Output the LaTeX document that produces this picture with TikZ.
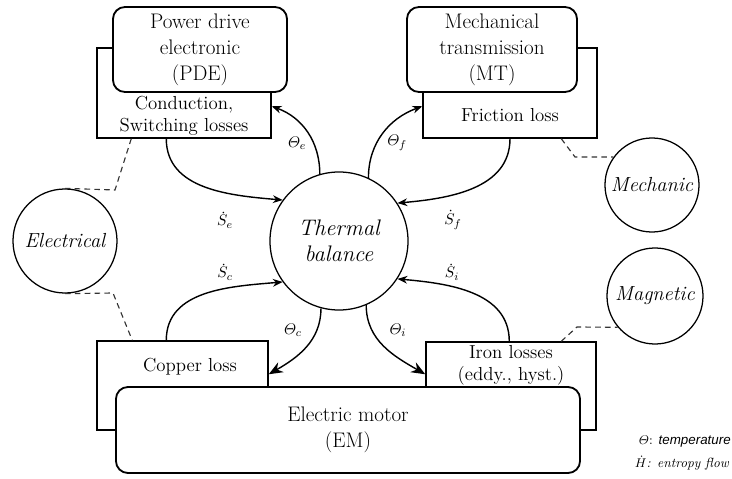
\documentclass[tikz,border=0pt]{standalone}
\usepackage{amsmath}
\usepackage{fontspec}
\newfontfamily\legendfont{Liberation Sans}
\usetikzlibrary{positioning, calc, arrows.meta, shapes}

\begin{document}
\begin{tikzpicture}[x=0.025cm, y=-0.025cm]
    % Define the styles for boxes, circles and connectors
    \tikzstyle{unitbox}=[draw, line width=1.3pt, rounded corners=0.3cm, fill=white, align=center, inner sep=0pt, font=\fontsize{15}{18.5}\selectfont];
    \tikzstyle{lossbox}=[draw, line width=1pt, inner sep=0pt];
    \tikzstyle{losstext}=[align=center, inner sep=0pt, font=\fontsize{13.4}{15.6}\selectfont];
    \tikzstyle{fieldcircle}=[draw, circle, line width=0.9pt, inner sep=0pt, align=center, font=\fontsize{14.5}{18.5}\selectfont\itshape];
    \tikzstyle{flow}=[-{Stealth[length=7pt,width=5.5pt]}, line width=1pt];
    \tikzstyle{bigflow}=[-{Stealth[length=10pt,width=8pt]}, line width=1pt];
    \tikzstyle{link}=[dash pattern=on 4pt off 3pt, line width=0.8pt, black!80];
    \tikzstyle{qty}=[inner sep=0pt, font=\fontsize{11}{13}\selectfont];

    \useasboundingbox (0,0) rectangle (732,479);

    % Loss boxes (drawn first, behind the units)
    \node[lossbox, minimum width=4.35cm, minimum height=2.25cm] (pdeloss) at (184,93) {};
    \node[lossbox, minimum width=4.35cm, minimum height=2.25cm] (mtloss) at (510,93) {};
    \node[lossbox, minimum width=4.275cm, minimum height=2.225cm] (copper) at (182.5,385.5) {};
    \node[lossbox, minimum width=4.25cm, minimum height=2.2cm] (iron) at (511,386) {};

    % Units
    \node[unitbox, minimum width=4.35cm, minimum height=2.125cm] (pde) at (200,49.5) {Power drive\\electronic\\(PDE)};
    \node[unitbox, minimum width=4.25cm, minimum height=2.125cm] (mt) at (492,49.5) {Mechanical\\transmission\\(MT)};
    \node[unitbox, minimum width=11.6cm, minimum height=2.15cm] (em) at (348,430) {Electric motor\\(EM)};

    % Loss texts
    \node[losstext] (pdetext) at (184,116) {Conduction,\\Switching losses};
    \node[losstext] (mttext) at (510,115) {Friction loss};
    \node[losstext] (coppertext) at (190,367) {Copper loss};
    \node[losstext] (irontext) at (511,365) {Iron losses\\(eddy., hyst.)};

    % Thermal balance and the physical domains
    \node[fieldcircle, minimum size=3.45cm, font=\fontsize{16}{18.5}\selectfont\itshape] (thermal) at (339,241) {Thermal\\balance};
    \node[fieldcircle, minimum size=2.6cm] (electrical) at (65,241) {Electrical};
    \node[fieldcircle, minimum size=2.35cm] (mechanic) at (652,185) {Mechanic};
    \node[fieldcircle, minimum size=2.4cm] (magnetic) at (655,296) {Magnetic};

    % Entropy flows and temperatures
    \draw[flow] ($(pdeloss.south west)+(70,0)$) to[out=-90, in=175] (thermal.144);
    \draw[flow] (thermal.106) to[out=90, in=-20] ($(pdeloss.north east)+(0,59)$);
    \draw[flow] (thermal.65) to[out=90, in=200] ($(mtloss.north west)+(0,59)$);
    \draw[flow] (mtloss.south) to[out=-90, in=5] (thermal.33);
    \draw[flow] ($(copper.north west)+(70,0)$) to[out=90, in=185] (thermal.216);
    \draw[bigflow] (thermal.255) to[out=-90, in=30] ($(copper.north east)+(0,34)$);
    \draw[bigflow] (thermal.293) to[out=-90, in=150] ($(iron.north west)+(0,33)$);
    \draw[flow] ($(iron.north west)+(84,0)$) to[out=90, in=-5] (thermal.327);

    \node[qty] (te) at (297,143) {$\varTheta_e$};
    \node[qty] (tf) at (397,143) {$\varTheta_f$};
    \node[qty] (se) at (225,220) {$\dot{S}_e$};
    \node[qty] (sf) at (453,220) {$\dot{S}_f$};
    \node[qty] (sc) at (225,272) {$\dot{S}_c$};
    \node[qty] (si) at (452,272) {$\dot{S}_i$};
    \node[qty] (tc) at (293,330) {$\varTheta_c$};
    \node[qty] (ti) at (398,330) {$\varTheta_i$};

    % Dashed links to the domains
    \coordinate (elbendup) at (115,190);
    \coordinate (elbenddown) at (113,293);
    \coordinate (mebend) at (575,157);
    \coordinate (mabend) at (577,327);
    \draw[link] ($(pdeloss.south west)+(35,0)$) -- (elbendup) -- (electrical.north);
    \draw[link] (electrical.south) -- (elbenddown) -- ($(copper.north west)+(36,0)$);
    \draw[link] ($(mtloss.south west)+(139,0)$) -- (mebend) -- (mechanic.144);
    \draw[link] ($(iron.north west)+(136,0)$) -- (mabend) -- (magnetic.220);

    % Legend
    \node[anchor=east, inner sep=0pt, font=\fontsize{9.5}{11}\selectfont] (legtheta) at (731,442) {$\varTheta$: {\legendfont\itshape temperature}};
    \node[anchor=east, inner sep=0pt, font=\fontsize{9.5}{11}\selectfont\itshape] (legflow) at (729,463) {$\dot{H}$: entropy flow};
\end{tikzpicture}
\end{document}
